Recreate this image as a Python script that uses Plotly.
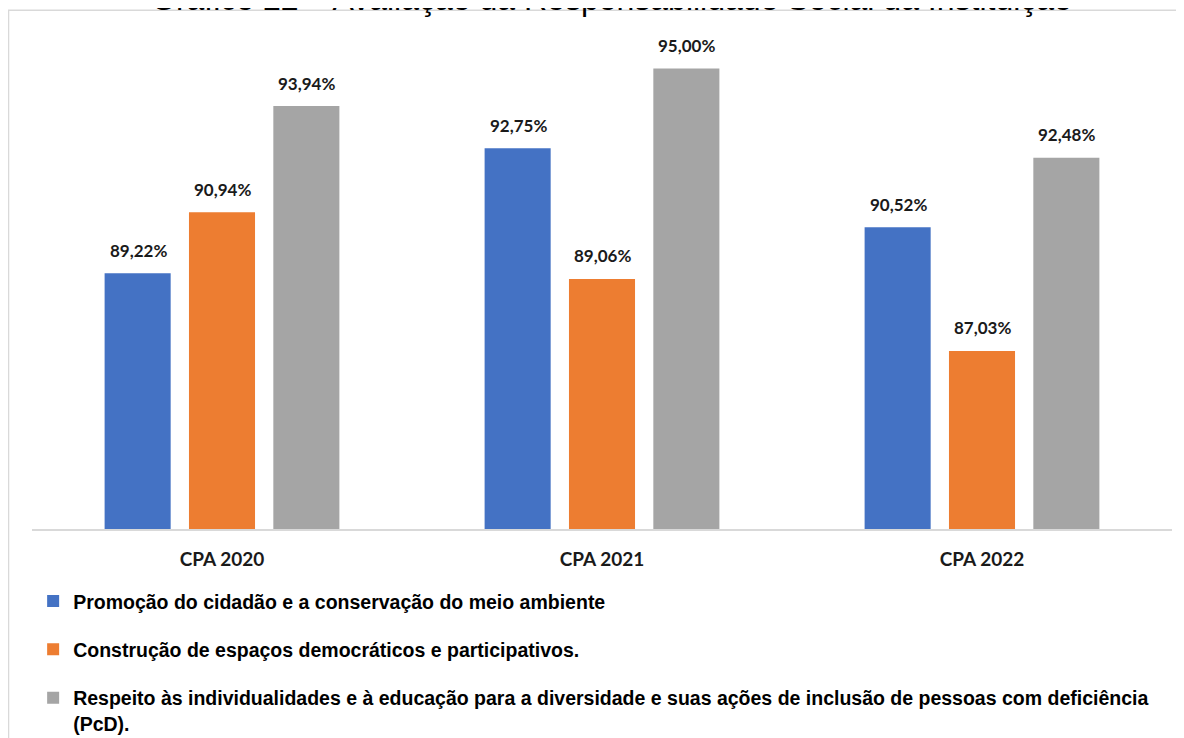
import plotly.graph_objects as go

categories = ["CPA 2020", "CPA 2021", "CPA 2022"]
series_names = [
    "Promoção do cidadão e a conservação do meio ambiente",
    "Construção de espaços democráticos e participativos.",
    "Respeito às individualidades e à educação para a diversidade e suas ações de inclusão de pessoas com deficiência<br>(PcD).",
]
promocao = [89.22, 92.75, 90.52]
construcao = [90.94, 89.06, 87.03]
respeito = [93.94, 95.00, 92.48]

colors = ["#4472C4", "#ED7D31", "#A5A5A5"]
title = "Gráfico 22 – Avaliação da Responsabilidade Social da Instituição"

series = [promocao, construcao, respeito]
fig = go.Figure()
for i, (name, values) in enumerate(zip(series_names, series)):
    fig.add_trace(go.Bar(
        x=categories, y=values, name=name,
        marker=dict(color=colors[i], line=dict(width=0)),
        legendgroup=f"g{i}",
    ))
    # value labels above each bar, shifted to the bar's slot in the group
    for cat, v in zip(categories, values):
        fig.add_annotation(
            x=cat, y=v, text=f"{v:.2f}%".replace(".", ","),
            showarrow=False, xshift=(i - 1) * 84, yshift=23, yanchor="middle",
            font=dict(family="Lato", size=17, color="#1a1a1a", weight="bold"),
        )

# title sits mostly above the visible page, as in the source image
fig.add_annotation(
    text=title, xref="paper", yref="paper", x=0.508, y=1.0679,
    xanchor="center", yanchor="middle", showarrow=False,
    font=dict(family="Liberation Sans", size=32, color="#000000"),
)

# outer frame
fig.add_shape(
    type="rect", xref="paper", yref="paper",
    x0=-0.0206, x1=1.05, y0=-0.5, y1=1.0459,
    line=dict(color="#D9D9D9", width=1.5), layer="below",
)

fig.update_layout(
    width=1176, height=730,
    margin=dict(l=24, r=12, t=25, b=204),
    plot_bgcolor="white", paper_bgcolor="white",
    barmode="group", bargap=0.334, bargroupgap=0.217,
    showlegend=True,
    legend=dict(
        orientation="v", x=0.001, xanchor="left",
        yref="container", y=0.214, yanchor="top",
        font=dict(family="Liberation Sans", size=19.5, color="#000000", weight="bold"),
        tracegroupgap=20, valign="top", itemwidth=30,
        traceorder="grouped",
    ),
)
fig.update_xaxes(
    showline=True, linecolor="#D9D9D9", linewidth=1.5,
    showgrid=False, ticks="", ticklabelstandoff=12,
    tickfont=dict(family="Lato", size=19, color="#1a1a1a", weight="bold"),
)
fig.update_yaxes(range=[82, 96], visible=False, showgrid=False)

fig.write_html("out.html")
